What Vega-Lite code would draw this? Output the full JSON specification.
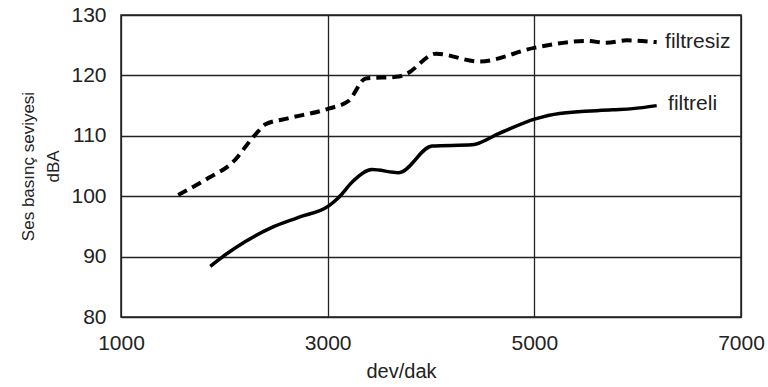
{
  "$schema": "https://vega.github.io/schema/vega-lite/v6.json",
  "autosize": "none",
  "width": 620,
  "height": 302,
  "padding": {"left": 121, "top": 15, "right": 27, "bottom": 70},
  "background": "white",
  "config": {
    "view": {"stroke": "#222", "strokeWidth": 1.5},
    "font": "Liberation Sans"
  },
  "datasets": {
    "curves": [
      {"rpm": 1553, "db": 100.2, "series": "filtresiz"},
      {"rpm": 1845, "db": 103.0, "series": "filtresiz"},
      {"rpm": 2068, "db": 105.4, "series": "filtresiz"},
      {"rpm": 2300, "db": 110.2, "series": "filtresiz"},
      {"rpm": 2398, "db": 111.9, "series": "filtresiz"},
      {"rpm": 2592, "db": 112.8, "series": "filtresiz"},
      {"rpm": 3010, "db": 114.5, "series": "filtresiz"},
      {"rpm": 3204, "db": 115.8, "series": "filtresiz"},
      {"rpm": 3369, "db": 119.5, "series": "filtresiz"},
      {"rpm": 3689, "db": 119.8, "series": "filtresiz"},
      {"rpm": 3757, "db": 120.2, "series": "filtresiz"},
      {"rpm": 4049, "db": 123.6, "series": "filtresiz"},
      {"rpm": 4466, "db": 122.3, "series": "filtresiz"},
      {"rpm": 5010, "db": 124.6, "series": "filtresiz"},
      {"rpm": 5505, "db": 125.7, "series": "filtresiz"},
      {"rpm": 5699, "db": 125.4, "series": "filtresiz"},
      {"rpm": 5893, "db": 125.8, "series": "filtresiz"},
      {"rpm": 6184, "db": 125.5, "series": "filtresiz"},
      {"rpm": 1864, "db": 88.4, "series": "filtreli"},
      {"rpm": 2010, "db": 90.3, "series": "filtreli"},
      {"rpm": 2204, "db": 92.5, "series": "filtreli"},
      {"rpm": 2456, "db": 94.8, "series": "filtreli"},
      {"rpm": 2718, "db": 96.5, "series": "filtreli"},
      {"rpm": 3010, "db": 98.4, "series": "filtreli"},
      {"rpm": 3107, "db": 99.8, "series": "filtreli"},
      {"rpm": 3252, "db": 102.6, "series": "filtreli"},
      {"rpm": 3427, "db": 104.4, "series": "filtreli"},
      {"rpm": 3689, "db": 103.9, "series": "filtreli"},
      {"rpm": 4010, "db": 108.3, "series": "filtreli"},
      {"rpm": 4398, "db": 108.5, "series": "filtreli"},
      {"rpm": 4660, "db": 110.4, "series": "filtreli"},
      {"rpm": 5010, "db": 112.8, "series": "filtreli"},
      {"rpm": 5243, "db": 113.7, "series": "filtreli"},
      {"rpm": 5757, "db": 114.3, "series": "filtreli"},
      {"rpm": 5951, "db": 114.5, "series": "filtreli"},
      {"rpm": 6184, "db": 115.0, "series": "filtreli"}
    ],
    "labels": [
      {"rpm": 6265, "db": 125.6, "text": "filtresiz"},
      {"rpm": 6294, "db": 115.3, "text": "filtreli"}
    ]
  },
  "encoding": {
    "x": {
      "field": "rpm", "type": "quantitative",
      "scale": {"domain": [1000, 7000], "nice": false, "zero": false},
      "axis": {
        "values": [1000, 3000, 5000, 7000],
        "title": "dev/dak", "titleFontSize": 20, "titleFontWeight": "normal",
        "titleColor": "#222", "titleX": 280, "titleY": 60,
        "titleAlign": "center", "titleBaseline": "alphabetic", "titleAnchor": null,
        "labelFontSize": 21, "labelColor": "#222", "labelPadding": 15,
        "ticks": false, "domain": false,
        "grid": true, "gridColor": "#222", "gridWidth": 1.3,
        "labelFlush": false, "format": "d"
      }
    },
    "y": {
      "field": "db", "type": "quantitative",
      "scale": {"domain": [80, 130], "nice": false, "zero": false},
      "axis": {
        "values": [80, 90, 100, 110, 120, 130],
        "title": ["Ses basınç seviyesi", "dBA"], "titleFontSize": 17,
        "titleFontWeight": "normal", "titleColor": "#222", "titlePadding": 8,
        "titleLineHeight": 25,
        "labelFontSize": 21, "labelColor": "#222", "labelPadding": 15,
        "ticks": false, "domain": false,
        "grid": true, "gridColor": "#222", "gridWidth": 1.3
      }
    }
  },
  "layer": [
    {
      "data": {"name": "curves"},
      "transform": [{"filter": "datum.series === 'filtresiz'"}],
      "mark": {"type": "line", "interpolate": "monotone", "color": "#000", "strokeWidth": 4, "strokeDash": [10, 6]}
    },
    {
      "data": {"name": "curves"},
      "transform": [{"filter": "datum.series === 'filtreli'"}],
      "mark": {"type": "line", "interpolate": "monotone", "color": "#000", "strokeWidth": 3.5}
    },
    {
      "data": {"name": "labels"},
      "mark": {"type": "text", "align": "left", "baseline": "middle", "fontSize": 21, "color": "#222"},
      "encoding": {"text": {"field": "text"}}
    }
  ]
}
